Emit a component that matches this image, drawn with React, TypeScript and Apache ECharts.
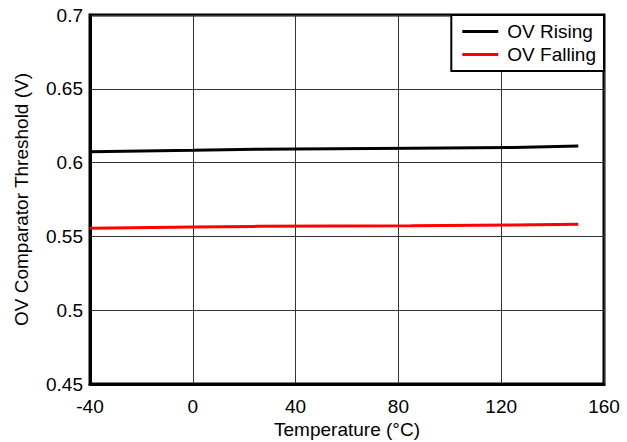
import React, { useEffect, useRef } from "react";
import * as echarts from "echarts";

const temps = [-40, 0, 25, 85, 125, 150];
const ovRising = [0.6074, 0.6083, 0.609, 0.6098, 0.6102, 0.6112];
const ovFalling = [0.5555, 0.5563, 0.5568, 0.5573, 0.5577, 0.5582];
const seriesNames = ["OV Rising", "OV Falling"];

export default function App() {
  const ref = useRef<HTMLDivElement>(null);
  useEffect(() => {
    if (!ref.current) return;
    const chart = echarts.init(ref.current, undefined, { renderer: "svg" });
    const font = "Liberation Sans, Arial, sans-serif";
    const fs = 19;
    chart.setOption({
      animation: false,
      textStyle: { fontFamily: font },
      grid: {
        left: 90,
        right: 23,
        top: 15,
        bottom: 58,
        show: true,
        borderColor: "#000",
        borderWidth: 3,
        containLabel: false,
        outerBoundsMode: "none",
      },
      legend: {
        orient: "vertical",
        right: 23,
        top: 15,
        padding: [7, 8, 7, 11],
        itemGap: 4,
        itemWidth: 36,
        itemHeight: 14,
        backgroundColor: "#fff",
        borderColor: "#000",
        borderWidth: 2,
        borderRadius: 0,
        textStyle: { fontSize: fs, color: "#000", fontFamily: font, padding: [0, 0, 0, 4] },
        data: seriesNames.map((n) => ({ name: n, icon: "path://M0,0 L36,0 L36,3 L0,3 Z" })),
      },
      xAxis: {
        type: "value",
        min: -40,
        max: 160,
        interval: 40,
        name: "Temperature (°C)",
        nameLocation: "middle",
        nameGap: 36,
        nameMoveOverlap: false,
        nameTextStyle: { fontSize: fs, color: "#000", fontFamily: font },
        axisLine: { show: true, onZero: false, lineStyle: { color: "#000", width: 3 } },
        axisTick: { show: false },
        axisLabel: { fontSize: fs, color: "#000", margin: 13, fontFamily: font },
        splitLine: { show: true, lineStyle: { color: "#333", width: 1 } },
      },
      yAxis: {
        type: "value",
        min: 0.45,
        max: 0.7,
        interval: 0.05,
        name: "OV Comparator Threshold (V)",
        nameLocation: "middle",
        nameGap: 59,
        nameMoveOverlap: false,
        nameTextStyle: { fontSize: fs, color: "#000", fontFamily: font },
        axisLine: { show: true, onZero: false, lineStyle: { color: "#000", width: 3 } },
        axisTick: { show: false },
        axisLabel: { fontSize: fs, color: "#000", margin: 7, fontFamily: font },
        splitLine: { show: true, lineStyle: { color: "#333", width: 1 } },
      },
      series: [
        {
          name: seriesNames[0],
          type: "line",
          data: temps.map((t, i) => [t, ovRising[i]]),
          showSymbol: false,
          symbol: "none",
          lineStyle: { color: "#000", width: 3 },
          itemStyle: { color: "#000" },
        },
        {
          name: seriesNames[1],
          type: "line",
          data: temps.map((t, i) => [t, ovFalling[i]]),
          showSymbol: false,
          symbol: "none",
          lineStyle: { color: "#ff0000", width: 3 },
          itemStyle: { color: "#ff0000" },
        },
      ],
    });
    return () => chart.dispose();
  }, []);
  return <div ref={ref} style={{ width: 627, height: 442, position: "absolute", left: 0, top: 0 }} />;
}
